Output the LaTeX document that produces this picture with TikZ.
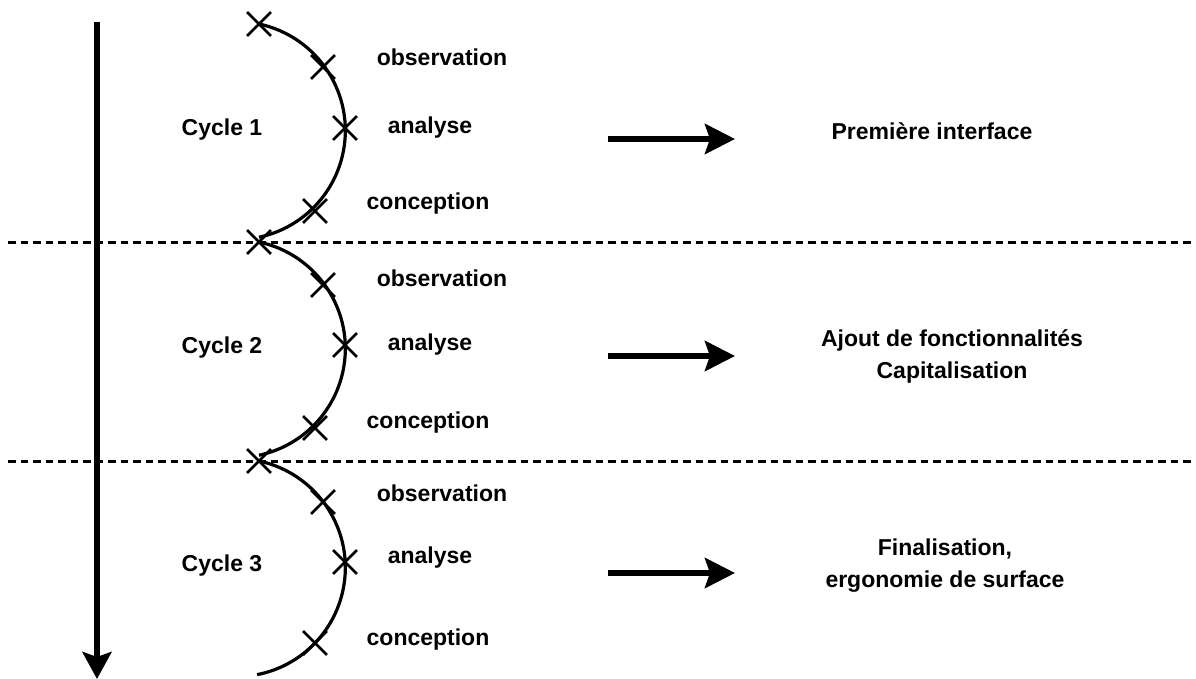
\documentclass[tikz,border=0pt]{standalone}
\usepackage{fontspec}
\setmainfont{Liberation Sans}
\usetikzlibrary{arrows.meta, shapes.misc}

\begin{document}
\begin{tikzpicture}[x=1pt, y=-1pt, every node/.style={font=\fontsize{23}{32}\selectfont\bfseries},
    tick/.style={draw, cross out, line width=2.8pt, minimum size=21pt, inner sep=0pt},
    cycleline/.style={line width=3.2pt},
    sep/.style={line width=3pt, dash pattern=on 7.5pt off 5pt},
    flow/.style={-{Stealth[length=30pt, width=30pt, inset=5pt]}, line width=6pt}]
    \useasboundingbox (0,0) rectangle (1196,679);
    % time axis and separators
    \coordinate (top) at (97,22);
    \coordinate (bottom) at (97,679);
    \draw[-{Stealth[length=27pt, width=29pt, inset=5pt]}, line width=5.5pt] (top)--(bottom);
    \coordinate (sepA) at (8,242);
    \coordinate (sepB) at (8,461);
    \draw[sep] (sepA)--++(1190,0);
    \draw[sep] (sepB)--++(1190,0);

    % cycle 1
    \draw[cycleline] (259,24) arc[start angle=-78, end angle=78, radius=109];
    \node[tick] (x11) at (259,24) {};
    \node[tick] (x12) at (323,67) {};
    \node[tick] (x13) at (345,128) {};
    \node[tick] (x14) at (315,211) {};
    \node (c1) at (222,130) {Cycle 1};
    \node (o1) at (442,57) {observation};
    \node (a1) at (430,128) {analyse};
    \node (p1) at (428,204) {conception};
    \coordinate (s1) at (608,139);
    \coordinate (e1) at (735,139);
    \draw[flow] (s1)--(e1);
    \node (r1) at (932,131) {Première interface};

    % cycle 2
    \draw[cycleline] (259,242) arc[start angle=-78, end angle=78, radius=109];
    \node[tick] (x21) at (259,242) {};
    \node[tick] (x22) at (323,285) {};
    \node[tick] (x23) at (345,345) {};
    \node[tick] (x24) at (315,428) {};
    \node (c2) at (222,348) {Cycle 2};
    \node (o2) at (442,278) {observation};
    \node (a2) at (430,345) {analyse};
    \node (p2) at (428,423) {conception};
    \coordinate (s2) at (608,356);
    \coordinate (e2) at (735,356);
    \draw[flow] (s2)--(e2);
    \node[align=center] (r2) at (952,356) {Ajout de fonctionnalités\\Capitalisation};

    % cycle 3
    \draw[cycleline] (259,461) arc[start angle=-78, end angle=79, radius=109];
    \node[tick] (x31) at (259,461) {};
    \node[tick] (x32) at (323,502) {};
    \node[tick] (x33) at (345,562) {};
    \node[tick] (x34) at (315,643) {};
    \node (c3) at (222,566) {Cycle 3};
    \node (o3) at (442,493) {observation};
    \node (a3) at (430,558) {analyse};
    \node (p3) at (428,640) {conception};
    \coordinate (s3) at (608,573);
    \coordinate (e3) at (735,573);
    \draw[flow] (s3)--(e3);
    \node[align=center] (r3) at (945,566) {Finalisation,\\ergonomie de surface};
  \end{tikzpicture}
\end{document}
